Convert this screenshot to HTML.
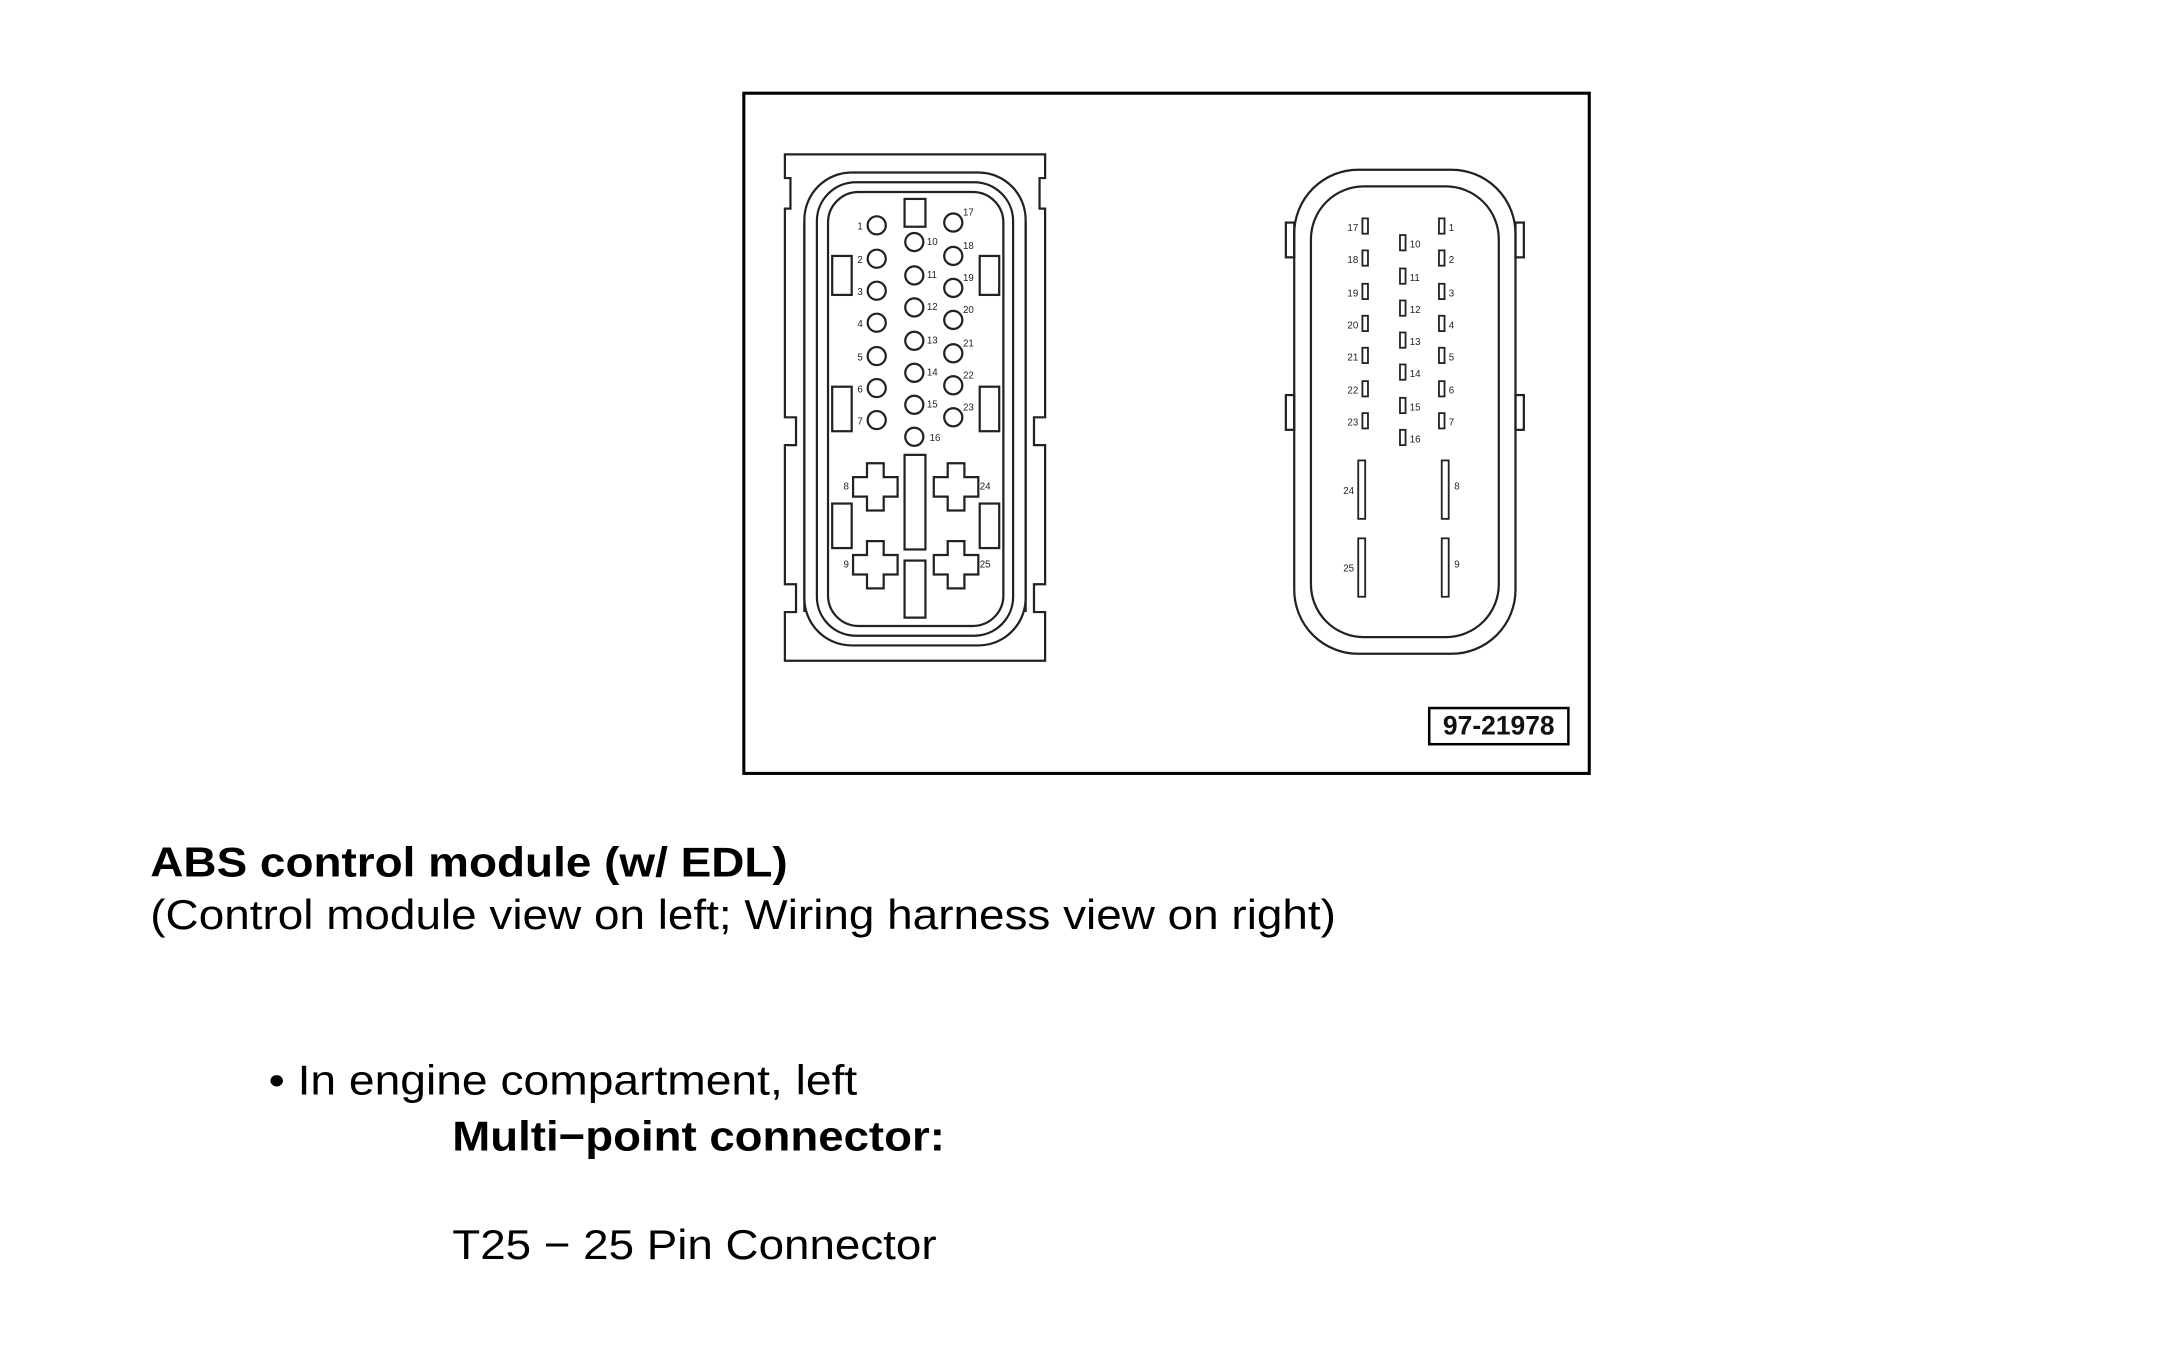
<!DOCTYPE html>
<html><head><meta charset="utf-8"><style>
html,body{margin:0;padding:0;background:#fff;width:2180px;height:1350px;overflow:hidden}
svg{display:block}
</style></head><body>
<svg width="2180" height="1350" viewBox="0 0 1566.5 970.5" preserveAspectRatio="none" xmlns="http://www.w3.org/2000/svg" font-family="Liberation Sans, Arial, sans-serif">
<rect x="0" y="0" width="1566.5" height="970.5" fill="#fff"/>
<rect x="534.5" y="67" width="607.5" height="489" fill="none" stroke="#000" stroke-width="2.2"/>
<g fill="none" stroke="#222" stroke-width="1.6">
<path d="M564,111 H751 V128 H747 V150 H751 V300 H743 V320 H751 V420 H743 V440 H751 V475 H564 V440 H572 V420 H564 V320 H572 V300 H564 V150 H568 V128 H564 Z"/>
<path d="M578,160 V440 M737,160 V440"/>
<rect x="578" y="124" width="159" height="340" rx="34"/>
<rect x="587" y="131" width="141" height="326" rx="28"/>
<rect x="595" y="138" width="126" height="312" rx="22"/>
<rect x="598" y="184" width="14" height="28"/>
<rect x="598" y="278" width="14" height="32"/>
<rect x="598" y="362" width="14" height="32"/>
<rect x="704" y="184" width="14" height="28"/>
<rect x="704" y="278" width="14" height="32"/>
<rect x="704" y="362" width="14" height="32"/>
<rect x="650" y="143" width="15" height="20"/>
<rect x="650" y="327" width="15" height="68"/>
<rect x="650" y="403" width="15" height="41"/>
<circle cx="630" cy="162" r="6.5"/><circle cx="630" cy="186" r="6.5"/><circle cx="630" cy="209" r="6.5"/><circle cx="630" cy="232" r="6.5"/><circle cx="630" cy="256" r="6.5"/><circle cx="630" cy="279" r="6.5"/><circle cx="630" cy="302" r="6.5"/>
<circle cx="657" cy="174" r="6.5"/><circle cx="657" cy="198" r="6.5"/><circle cx="657" cy="221" r="6.5"/><circle cx="657" cy="245" r="6.5"/><circle cx="657" cy="268" r="6.5"/><circle cx="657" cy="291" r="6.5"/><circle cx="657" cy="314" r="6.5"/>
<circle cx="685" cy="160" r="6.5"/><circle cx="685" cy="184" r="6.5"/><circle cx="685" cy="207" r="6.5"/><circle cx="685" cy="230" r="6.5"/><circle cx="685" cy="254" r="6.5"/><circle cx="685" cy="277" r="6.5"/><circle cx="685" cy="300" r="6.5"/>
<path d="M623,333 h12 v10 h10 v14 h-10 v10 h-12 v-10 h-10 v-14 h10 z"/>
<path d="M681,333 h12 v10 h10 v14 h-10 v10 h-12 v-10 h-10 v-14 h10 z"/>
<path d="M623,389 h12 v10 h10 v14 h-10 v10 h-12 v-10 h-10 v-14 h10 z"/>
<path d="M681,389 h12 v10 h10 v14 h-10 v10 h-12 v-10 h-10 v-14 h10 z"/>
<rect x="930" y="122" width="159" height="348" rx="46"/>
<rect x="942" y="134" width="135" height="324" rx="38"/>
<rect x="924" y="160" width="6" height="25"/><rect x="924" y="284" width="6" height="25"/>
<rect x="1089" y="160" width="6" height="25"/><rect x="1089" y="284" width="6" height="25"/>
<g stroke-width="1.3">
<rect x="979" y="157" width="4" height="11"/><rect x="979" y="180" width="4" height="11"/><rect x="979" y="204" width="4" height="11"/><rect x="979" y="227" width="4" height="11"/><rect x="979" y="250" width="4" height="11"/><rect x="979" y="274" width="4" height="11"/><rect x="979" y="297" width="4" height="11"/>
<rect x="1006" y="169" width="4" height="11"/><rect x="1006" y="193" width="4" height="11"/><rect x="1006" y="216" width="4" height="11"/><rect x="1006" y="239" width="4" height="11"/><rect x="1006" y="262" width="4" height="11"/><rect x="1006" y="286" width="4" height="11"/><rect x="1006" y="309" width="4" height="11"/>
<rect x="1034" y="157" width="4" height="11"/><rect x="1034" y="180" width="4" height="11"/><rect x="1034" y="204" width="4" height="11"/><rect x="1034" y="227" width="4" height="11"/><rect x="1034" y="250" width="4" height="11"/><rect x="1034" y="274" width="4" height="11"/><rect x="1034" y="297" width="4" height="11"/>
<rect x="976" y="331" width="5" height="42"/><rect x="1036" y="331" width="5" height="42"/>
<rect x="976" y="387" width="5" height="42"/><rect x="1036" y="387" width="5" height="42"/>
</g>
<rect x="1027" y="509" width="100" height="26" stroke="#000" stroke-width="1.8"/>
</g>
<g font-size="7" fill="#222">
<text x="620" y="165" text-anchor="end">1</text><text x="620" y="189" text-anchor="end">2</text><text x="620" y="212" text-anchor="end">3</text><text x="620" y="235" text-anchor="end">4</text><text x="620" y="259" text-anchor="end">5</text><text x="620" y="282" text-anchor="end">6</text><text x="620" y="305" text-anchor="end">7</text>
<text x="666" y="176">10</text><text x="666" y="200">11</text><text x="666" y="223">12</text><text x="666" y="247">13</text><text x="666" y="270">14</text><text x="666" y="293">15</text><text x="668" y="317">16</text>
<text x="692" y="155">17</text><text x="692" y="179">18</text><text x="692" y="202">19</text><text x="692" y="225">20</text><text x="692" y="249">21</text><text x="692" y="272">22</text><text x="692" y="295">23</text>
<text x="610" y="352" text-anchor="end">8</text><text x="704" y="352">24</text><text x="610" y="408" text-anchor="end">9</text><text x="704" y="408">25</text>
<text x="976" y="166" text-anchor="end">17</text><text x="976" y="189" text-anchor="end">18</text><text x="976" y="213" text-anchor="end">19</text><text x="976" y="236" text-anchor="end">20</text><text x="976" y="259" text-anchor="end">21</text><text x="976" y="283" text-anchor="end">22</text><text x="976" y="306" text-anchor="end">23</text>
<text x="1013" y="178">10</text><text x="1013" y="202">11</text><text x="1013" y="225">12</text><text x="1013" y="248">13</text><text x="1013" y="271">14</text><text x="1013" y="295">15</text><text x="1013" y="318">16</text>
<text x="1041" y="166">1</text><text x="1041" y="189">2</text><text x="1041" y="213">3</text><text x="1041" y="236">4</text><text x="1041" y="259">5</text><text x="1041" y="283">6</text><text x="1041" y="306">7</text>
<text x="973" y="355" text-anchor="end">24</text><text x="1045" y="352">8</text><text x="973" y="411" text-anchor="end">25</text><text x="1045" y="408">9</text>
</g>
<text x="1077" y="528" font-size="19" font-weight="bold" text-anchor="middle" fill="#111">97-21978</text>
<g fill="#000" font-size="30">
<text x="108" y="630" font-weight="bold" textLength="458" lengthAdjust="spacingAndGlyphs">ABS control module (w/ EDL)</text>
<text x="108" y="668" textLength="852" lengthAdjust="spacingAndGlyphs">(Control module view on left; Wiring harness view on right)</text>
<text x="193" y="787" textLength="423" lengthAdjust="spacingAndGlyphs">• In engine compartment, left</text>
<text x="325" y="827" font-weight="bold" textLength="354" lengthAdjust="spacingAndGlyphs">Multi−point connector:</text>
<text x="325" y="905" textLength="348" lengthAdjust="spacingAndGlyphs">T25 − 25 Pin Connector</text>
</g>
</svg>
</body></html>
